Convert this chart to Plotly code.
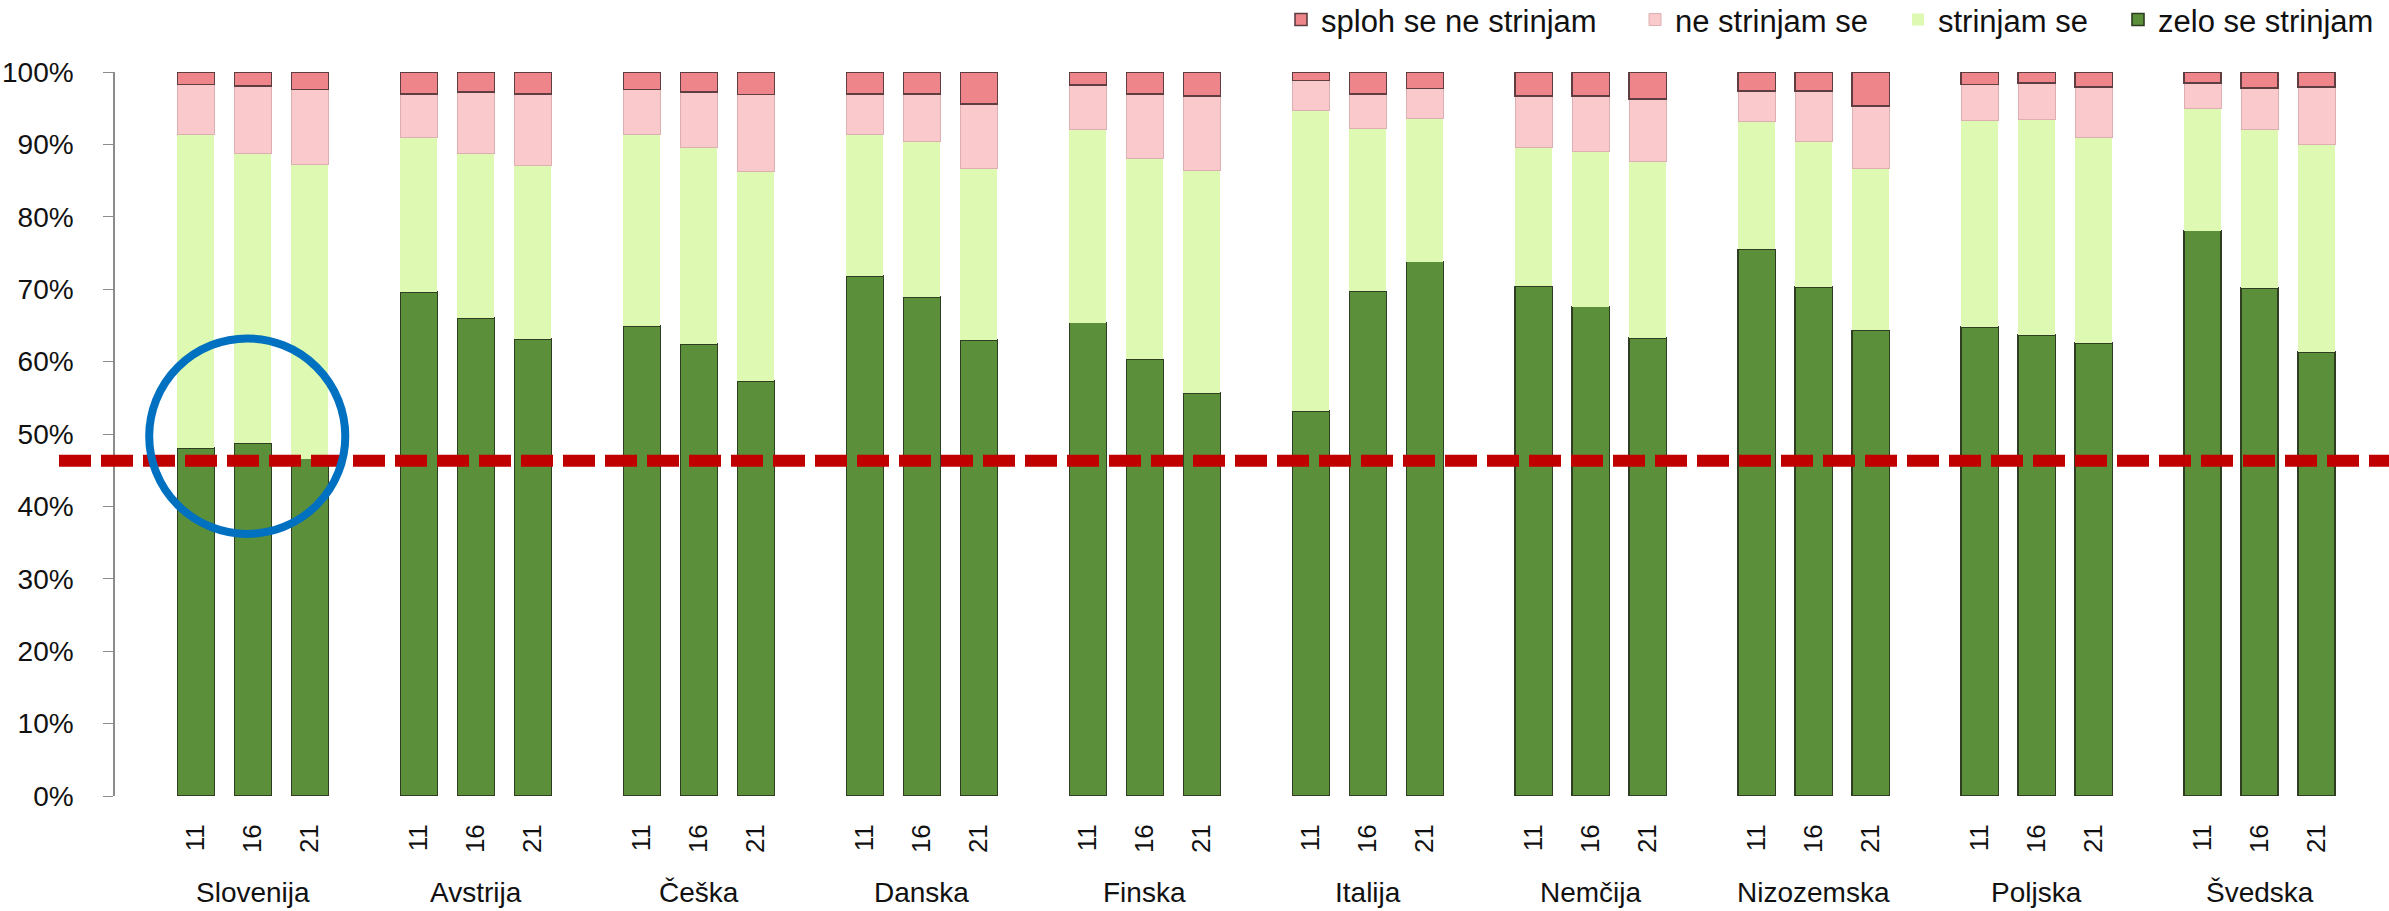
import plotly.graph_objects as go

# ---------------- data ----------------
countries = ["Slovenija", "Avstrija", "Češka", "Danska", "Finska",
             "Italija", "Nemčija", "Nizozemska", "Poljska", "Švedska"]
years = ["11", "16", "21"]

# percentages, country-major order (11, 16, 21 for each country)
zelo_se_strinjam = [48.1, 48.7, 46.6,  69.6, 66.0, 63.1,  64.9, 62.4, 57.3,
                    71.8, 68.9, 63.0,  65.4, 60.3, 55.7,  53.2, 69.7, 73.8,
                    70.4, 67.6, 63.3,  75.5, 70.3, 64.3,  64.8, 63.7, 62.6,
                    78.1, 70.2, 61.3]
strinjam_se = [43.3, 40.0, 40.6,  21.4, 22.7, 24.0,  26.4, 27.2, 28.9,
               19.6, 21.5, 23.7,  26.6, 27.7, 30.7,  41.5, 22.5, 19.8,
               19.2, 21.4, 24.3,  17.7, 20.1, 22.4,  28.5, 29.8, 28.4,
               16.9, 21.8, 28.7]
ne_strinjam_se = [6.9, 9.4, 10.4,  6.0, 8.5, 9.9,  6.3, 7.6, 10.7,
                  5.6, 6.6, 8.9,  6.2, 9.0, 10.3,  4.1, 4.8, 4.1,
                  7.1, 7.7, 8.7,  4.2, 7.0, 8.6,  5.0, 5.0, 6.9,
                  3.5, 5.8, 7.9]
sploh_se_ne_strinjam = [1.7, 1.9, 2.4,  3.0, 2.8, 3.0,  2.4, 2.8, 3.1,
                        3.0, 3.0, 4.4,  1.8, 3.0, 3.3,  1.2, 3.0, 2.3,
                        3.3, 3.3, 3.7,  2.6, 2.6, 4.7,  1.7, 1.5, 2.1,
                        1.5, 2.2, 2.1]

y_ticks = [0, 10, 20, 30, 40, 50, 60, 70, 80, 90, 100]
y_tick_labels = [f"{v}%" for v in y_ticks]
threshold = 46.3              # red dashed reference line (%)
circle_center = (0.9, 49.7)   # highlight around Slovenija (x units, %)

# ---------------- layout helpers ----------------
W, H = 2389, 911
ML, MR, MT, MB = 115, 10, 72, 115
GROUP_STEP = 3.912
BAR_W = 0.65
X_MIN, X_MAX = -1.42, 38.3
Y_MIN, Y_MAX = 0, 100
plot_w = W - ML - MR

xs, xt = [], []
for g, c in enumerate(countries):
    for b, yr in enumerate(years):
        xs.append(g * GROUP_STEP + b)
        xt.append(yr)

FONT = "Liberation Sans, Arial, sans-serif"

# (name, values, fill, outline colour, outline width, legend id, legend text start px)
series = [
    ("zelo se strinjam", zelo_se_strinjam, "#5B8F3A", "#2f3d22", 1.6, "legend4", 2163),
    ("strinjam se", strinjam_se, "#DDF9B2", "#DDF9B2", 0, "legend3", 1943),
    ("ne strinjam se", ne_strinjam_se, "#F9C9CB", "#dcb0b2", 1, "legend2", 1680),
    ("sploh se ne strinjam", sploh_se_ne_strinjam, "#EE858A", "#5e3e40", 1.6, "legend", 1326),
]

fig = go.Figure()
legends = {}
for name, vals, col, lc, lw, leg, tx in series:
    fig.add_trace(go.Bar(
        x=xs, y=vals, name=name, width=BAR_W, legend=leg,
        marker=dict(color=col, line=dict(color=lc, width=lw)),
    ))
    legends[leg] = dict(orientation="h", x=(tx - 45 - ML) / plot_w,
                        xanchor="left", y=1.072, yanchor="middle",
                        font=dict(family=FONT, size=31, color="#111"),
                        bgcolor="rgba(0,0,0,0)")

annotations = []
for g, c in enumerate(countries):
    annotations.append(dict(
        x=g * GROUP_STEP + 1, y=0, xref="x", yref="paper",
        text=c, showarrow=False, yanchor="middle", xanchor="center",
        yshift=-96, font=dict(family=FONT, size=28, color="#111"),
    ))

shapes = [
    dict(type="line", xref="paper", yref="paper",
         x0=(59 - ML) / plot_w, x1=(W - ML + 5) / plot_w,
         y0=(threshold - Y_MIN) / (Y_MAX - Y_MIN),
         y1=(threshold - Y_MIN) / (Y_MAX - Y_MIN),
         line=dict(color="#C00000", width=12, dash="32px,10px"),
         layer="above"),
    dict(type="circle", xref="x", yref="y",
         x0=circle_center[0] - 1.72, x1=circle_center[0] + 1.72,
         y0=circle_center[1] - 13.5, y1=circle_center[1] + 13.5,
         line=dict(color="#0070C0", width=8), layer="above"),
]

fig.update_layout(
    width=W, height=H,
    margin=dict(l=ML, r=MR, t=MT, b=MB, autoexpand=False),
    barmode="stack",
    plot_bgcolor="white", paper_bgcolor="white",
    font=dict(family=FONT, color="#111"),
    showlegend=True,
    xaxis=dict(range=[X_MIN, X_MAX], tickmode="array", tickvals=xs,
               ticktext=xt, tickangle=-90, showgrid=False, zeroline=False,
               showline=False, ticks="", ticklabelstandoff=22,
               tickfont=dict(family=FONT, size=26, color="#111")),
    yaxis=dict(range=[Y_MIN, Y_MAX], tickmode="array", tickvals=y_ticks,
               ticktext=y_tick_labels, showgrid=False, zeroline=False,
               showline=True, linecolor="#8c8c8c", linewidth=1.5,
               ticks="outside", ticklen=10, tickcolor="#8c8c8c",
               ticklabelstandoff=24,
               tickfont=dict(family=FONT, size=28, color="#111")),
    annotations=annotations,
    shapes=shapes,
    **legends,
)

fig.write_html("out.html", config={"displayModeBar": False},
               post_script="document.body.style.margin='0';document.body.style.overflow='hidden';")
